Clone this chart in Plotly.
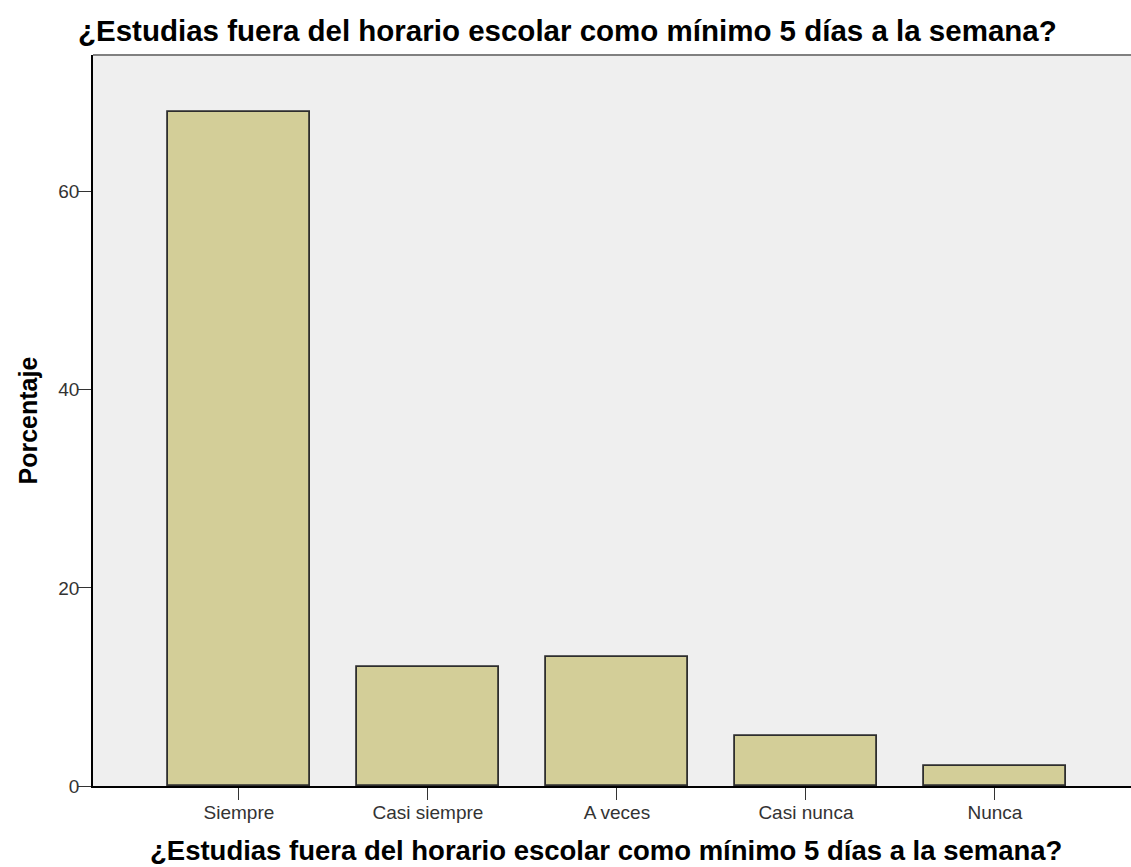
import plotly.graph_objects as go

# respuestas y porcentajes
categorias = ["Siempre", "Casi siempre", "A veces", "Casi nunca", "Nunca"]
porcentajes = [68, 12, 13, 5, 2]
y_ticks = [0, 20, 40, 60]

titulo = "¿Estudias fuera del horario escolar como mínimo 5 días a la semana?"

W, H = 1131, 867

fig = go.Figure()
fig.add_trace(go.Bar(x=categorias, y=porcentajes, width=0.75,
                     marker=dict(color="#D3CE98", line=dict(color="#2e2e2e", width=1.8))))

fig.update_layout(
    width=W, height=H,
    paper_bgcolor="white", plot_bgcolor="#EFEFEF",
    margin=dict(l=93, r=0, t=55, b=81),
    font=dict(family="Liberation Sans, Arial, sans-serif", color="#222"),
    title=dict(text="<b>" + titulo + "</b>", font=dict(size=29.5, color="black"),
               xref="container", x=78/W, xanchor="left",
               yref="container", y=1-31/H, yanchor="middle"),
    showlegend=False,
    bargap=0,
)
fig.update_xaxes(range=[-0.772, 4.72], showline=True, linecolor="black", linewidth=1.5,
                 ticks="outside", ticklen=12, tickcolor="#333", tickfont=dict(size=19, color="#333"),
                 ticklabelstandoff=-4, showgrid=False)
fig.update_yaxes(range=[0, 73.8], tickvals=y_ticks, showline=True, linecolor="black", linewidth=1.5,
                 ticks="outside", ticklen=13, tickcolor="#333", tickfont=dict(size=19, color="#333"),
                 ticklabelstandoff=-5, showgrid=False, zeroline=False)

# títulos de los ejes
fig.add_annotation(text="<b>" + titulo + "</b>", xref="paper", yref="paper", x=0.5, y=0,
                   xshift=-6, yshift=-64, yanchor="middle", showarrow=False,
                   font=dict(size=27.5, color="black"))
fig.add_annotation(text="<b>Porcentaje</b>", xref="paper", yref="paper", x=0, y=0.5,
                   xshift=-66, xanchor="center", textangle=-90, showarrow=False,
                   font=dict(size=25, color="black"))

# borde superior del marco
fig.add_shape(type="line", xref="paper", yref="paper", x0=0, x1=1, y0=1, y1=1,
              line=dict(color="#808080", width=2))

# quitar el margen del body para que la figura ocupe la ventana completa
fig.write_html("out.html", config={"displayModeBar": False},
               post_script="document.body.style.margin='0';document.body.style.overflow='hidden';")
